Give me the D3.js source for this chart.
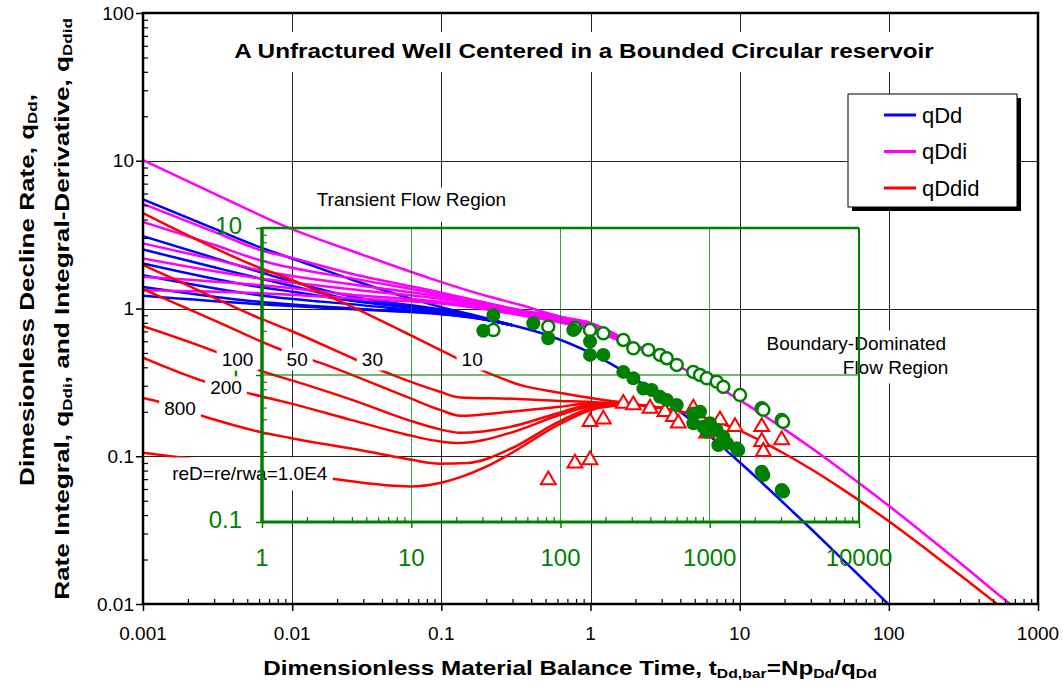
<!DOCTYPE html>
<html>
<head>
<meta charset="utf-8">
<script src="https://cdn.jsdelivr.net/npm/d3@7"></script>
<style>
  body { margin: 0; background: #fff; }
  svg { display: block; }
  text { font-family: Arial, "Liberation Sans", sans-serif; fill: #000; }
</style>
</head>
<body>
<svg id="chart" width="1063" height="687"></svg>
<script>
// ---------------- Type-curve data (tDd_bar, value) ----------------
const reDValues = [10, 30, 50, 100, 200, 800, 10000];

// qDd transient stems, one per reD
const rateStems = [
  [[0.001,5.47],[0.003,3.47],[0.006,2.61],[0.01,2.18],[0.0255,1.56],[0.0616,1.17],[0.1,1.02],[0.2,0.86],[0.3,0.77]],
  [[0.001,3.09],[0.003,2.2],[0.006,1.77],[0.01,1.52],[0.0255,1.2],[0.1,0.98],[0.2,0.85],[0.3,0.77]],
  [[0.001,2.51],[0.003,1.9],[0.006,1.6],[0.01,1.42],[0.0255,1.14],[0.1,0.97],[0.2,0.85],[0.3,0.77]],
  [[0.001,2.02],[0.006,1.40],[0.01,1.3],[0.03,1.1],[0.1,0.95],[0.2,0.84],[0.3,0.77]],
  [[0.001,1.68],[0.006,1.23],[0.03,1.05],[0.1,0.93],[0.2,0.84],[0.3,0.77]],
  [[0.001,1.40],[0.006,1.11],[0.03,0.99],[0.1,0.92],[0.2,0.84],[0.3,0.77]],
  [[0.001,1.22],[0.006,1.07],[0.03,0.98],[0.1,0.915],[0.2,0.84],[0.3,0.77]]
];
// qDd boundary-dominated curve
const rateBoundary = [[0.3,0.77],[0.5,0.667],[1,0.5],[2,0.333],[3,0.25],[5,0.167],[10,0.091],[20,0.0476],[30,0.0323],[50,0.0196],[100,0.0099],[110,0.009]];

// qDdi transient stems
const integralStems = [
  [[0.001,10.1],[0.003,6.0],[0.0096,3.5],[0.03,2.3],[0.084,1.6],[0.21,1.2],[0.34,1.055],[0.63,0.88],[1,0.80],[2,0.57],[3,0.465]],
  [[0.001,5.1],[0.003,3.3],[0.006,2.5],[0.01,2.2],[0.0255,1.71],[0.1,1.28],[0.3,1.0],[1,0.77],[2,0.558],[3,0.463]],
  [[0.001,3.86],[0.003,2.7],[0.006,2.13],[0.03,1.55],[0.1,1.24],[0.3,0.98],[1,0.75],[2,0.555],[3,0.463]],
  [[0.001,2.76],[0.003,2.15],[0.006,1.82],[0.03,1.42],[0.1,1.2],[0.3,0.96],[1,0.74],[2,0.553],[3,0.462]],
  [[0.001,2.18],[0.006,1.6],[0.03,1.32],[0.1,1.16],[0.3,0.95],[1,0.73],[2,0.552],[3,0.462]],
  [[0.001,1.64],[0.006,1.44],[0.03,1.22],[0.1,1.11],[0.3,0.93],[1,0.72],[2,0.551],[3,0.462]],
  [[0.001,1.33],[0.006,1.27],[0.03,1.16],[0.1,1.08],[0.3,0.92],[1,0.715],[2,0.55],[3,0.462]]
];
const integralBoundary = [[3,0.462],[5,0.358],[10,0.24],[20,0.152],[30,0.1145],[50,0.0786],[100,0.0462],[200,0.0265],[300,0.019],[500,0.0124],[700,0.0094]];

// qDdid transient stems
const derivStems = [
  [[0.001,4.42],[0.0061,1.88],[0.01,1.56],[0.0255,1.02],[0.0616,0.662],[0.098,0.525],[0.222,0.355],[0.337,0.304],[0.62,0.269],[1,0.248],[2,0.225],[3,0.212]],
  [[0.001,1.97],[0.00166,1.56],[0.0064,0.84],[0.0097,0.71],[0.0268,0.45],[0.047,0.355],[0.098,0.273],[0.133,0.25],[0.3,0.245],[0.62,0.237],[1,0.233],[2,0.222],[3,0.212]],
  [[0.001,1.35],[0.003,0.83],[0.0083,0.53],[0.0153,0.43],[0.0587,0.252],[0.098,0.206],[0.133,0.188],[0.29,0.20],[0.62,0.216],[1,0.228],[2,0.222],[3,0.212]],
  [[0.001,0.76],[0.0031,0.508],[0.0064,0.373],[0.0097,0.329],[0.0255,0.24],[0.0587,0.177],[0.098,0.152],[0.133,0.144],[0.29,0.158],[0.62,0.197],[1,0.222],[2,0.222],[3,0.212]],
  [[0.001,0.465],[0.0026,0.32],[0.0055,0.262],[0.0097,0.228],[0.0255,0.175],[0.0587,0.14],[0.098,0.126],[0.133,0.123],[0.29,0.144],[0.62,0.19],[1,0.216],[2,0.221],[3,0.212]],
  [[0.001,0.248],[0.0013,0.233],[0.0026,0.185],[0.0061,0.146],[0.0097,0.133],[0.035,0.106],[0.0616,0.095],[0.098,0.089],[0.15,0.09],[0.29,0.112],[0.62,0.172],[1,0.21],[2,0.221],[3,0.212]],
  [[0.001,0.1056],[0.0021,0.0962],[0.01,0.077],[0.0209,0.0693],[0.0616,0.0625],[0.098,0.066],[0.133,0.072],[0.2,0.085],[0.29,0.104],[0.62,0.165],[1,0.205],[1.6,0.222],[2,0.221],[3,0.212]]
];
const derivBoundary = [[3,0.212],[5,0.191],[10,0.149],[20,0.104],[30,0.082],[50,0.059],[100,0.0363],[200,0.0215],[300,0.0157],[500,0.0105],[600,0.0091]];

// ---------------- Field data (inner axes units) ----------------
const rateData = [
  [30.4,2.00],[35.5,2.56],[65.7,2.25],[82.8,1.78],[121.9,2.02],[157.7,1.69],[157.7,1.37],[193.6,1.37],
  [263.6,1.05],[307.5,0.95],[358.9,0.81],[408.3,0.79],[464.2,0.71],[514.8,0.676],[600.6,0.625],
  [776,0.548],[860.5,0.562],[776,0.469],[905.5,0.445],[1004,0.469],[1113,0.423],[954.5,0.411],
  [1233,0.380],[1141,0.334],[1300,0.343],[1516,0.317],[1553,0.309],[2229,0.220],[2285,0.209],[3034,0.165],[3100,0.161]
];
const integralData = [
  [35.5,2.02],[82.8,2.13],[125,2.09],[157.7,2.02],[193.6,1.92],[263.6,1.73],[307.5,1.52],[387.5,1.48],
  [464.2,1.37],[514.8,1.30],[600.6,1.17],[776,1.05],[860.5,1.0],[954.5,0.95],[1113,0.90],[1233,0.83],
  [1595,0.73],[2229,0.593],[2285,0.58],[3034,0.494],[3100,0.48]
];
const derivData = [
  [82.8,0.193],[125,0.251],[157.7,0.264],[157.7,0.481],[193.6,0.50],[263.6,0.64],[307.5,0.625],[398,0.593],
  [501.2,0.562],[570.2,0.52],[615.5,0.469],[776,0.593],[954.5,0.401],[1171,0.494],[1476,0.445],
  [2229,0.445],[2229,0.352],[2285,0.301],[3034,0.361]
];

// ---------------- Tick values and labels ----------------
const xTickValues = [0.001, 0.01, 0.1, 1, 10, 100, 1000];
const xTickLabels = ["0.001", "0.01", "0.1", "1", "10", "100", "1000"];
const yTickValues = [0.01, 0.1, 1, 10, 100];
const yTickLabels = ["0.01", "0.1", "1", "10", "100"];
const gxTickValues = [1, 10, 100, 1000, 10000];
const gxTickLabels = ["1", "10", "100", "1000", "10000"];
const gyTickValues = [0.1, 1, 10];
const gyTickLabels = ["0.1", "1", "10"];

const legendItems = ["qDd", "qDdi", "qDdid"];
const stemLabels = [
  { text: "100", t: 0.0043, q: 0.455 },
  { text: "50", t: 0.0108, q: 0.455 },
  { text: "30", t: 0.0345, q: 0.455 },
  { text: "10", t: 0.161, q: 0.455 },
  { text: "200", t: 0.0036, q: 0.29 },
  { text: "800", t: 0.00177, q: 0.209 },
  { text: "reD=re/rwa=1.0E4", t: 0.0052, q: 0.0759, padY: 6 }
];

// ---------------- Layout ----------------
const BLUE = "#0000ff", MAGENTA = "#ff00ff", RED = "#ff0000", GREEN = "#008000";
const svg = d3.select("#chart");
svg.append("rect").attr("width", 1063).attr("height", 687).attr("fill", "#fff");

const x = d3.scaleLog().domain([0.001, 1000]).range([143, 1038]);
const y = d3.scaleLog().domain([0.01, 100]).range([604, 13]);
const gx = d3.scaleLog().domain([1, 10000]).range([262, 859]);
const gy = d3.scaleLog().domain([0.1, 10]).range([522, 228]);

const [px0, px1] = x.range();
const [py1, py0] = y.range();

svg.append("defs").append("clipPath").attr("id", "plotClip")
  .append("rect").attr("x", px0).attr("y", py0).attr("width", px1 - px0).attr("height", py1 - py0);

// main grid
const grid = svg.append("g").attr("stroke", "#222").attr("stroke-width", 1).attr("shape-rendering", "crispEdges");
xTickValues.slice(1, -1).forEach(v => grid.append("line")
  .attr("x1", Math.round(x(v)) + 0.5).attr("x2", Math.round(x(v)) + 0.5).attr("y1", py0).attr("y2", py1));
yTickValues.slice(1, -1).forEach(v => grid.append("line")
  .attr("y1", Math.round(y(v)) + 0.5).attr("y2", Math.round(y(v)) + 0.5).attr("x1", px0).attr("x2", px1));

// white text boxes sitting on the grid
function boxedLines(parent, cx, lines, opts) {
  const g = parent.append("g");
  const rect = g.append("rect").attr("fill", "#fff");
  const nodes = lines.map(l => g.append("text")
    .attr("x", l.x !== undefined ? l.x : cx).attr("y", l.y)
    .attr("text-anchor", opts.anchor || "middle")
    .attr("dominant-baseline", "central")
    .attr("font-size", opts.size)
    .attr("font-weight", opts.weight || "normal")
    .text(l.text));
  let x0 = Infinity, y0 = Infinity, x1 = -Infinity, y1 = -Infinity;
  nodes.forEach(n => {
    const b = n.node().getBBox();
    x0 = Math.min(x0, b.x); y0 = Math.min(y0, b.y);
    x1 = Math.max(x1, b.x + b.width); y1 = Math.max(y1, b.y + b.height);
  });
  const p = opts.pad;
  rect.attr("x", x0 - p.l).attr("y", y0 - p.t).attr("width", x1 - x0 + p.l + p.r).attr("height", y1 - y0 + p.t + p.b);
  return g;
}

// title
const titleG = svg.append("g");
titleG.append("rect").attr("x", 222).attr("y", 32).attr("width", 724).attr("height", 40).attr("fill", "#fff");
const titleT = titleG.append("text").attr("x", 0).attr("y", 0)
  .attr("text-anchor", "middle").attr("dominant-baseline", "central")
  .attr("font-size", 20).attr("font-weight", "bold")
  .text("A Unfractured Well Centered in a Bounded Circular reservoir");
{
  const w = titleT.node().getComputedTextLength();
  titleT.attr("transform", `translate(584,51) scale(${700 / w},1)`);
}

// flow-region annotations
boxedLines(svg, x(0.063), [{ text: "Transient Flow Region", y: y(5.5) }],
  { size: 19, pad: { l: 4, r: 4, t: 1, b: 12 } });
boxedLines(svg, 0, [
  { text: "Boundary-Dominated", x: x(60.5), y: y(0.584) },
  { text: "Flow Region", x: x(111), y: y(0.396) }
], { size: 19, pad: { l: 4, r: 4, t: 2, b: 5 } });

// curves
const line = d3.line().x(d => x(d[0])).y(d => y(d[1])).curve(d3.curveMonotoneX);
const curves = svg.append("g").attr("clip-path", "url(#plotClip)")
  .attr("fill", "none").attr("stroke-width", 2.5).attr("stroke-linejoin", "round");
function drawFamily(stems, boundary, color) {
  curves.selectAll(null).data(stems).join("path")
    .attr("d", line).attr("stroke", color);
  curves.append("path").datum(boundary).attr("d", line).attr("stroke", color);
}
drawFamily(rateStems, rateBoundary, BLUE);
drawFamily(integralStems, integralBoundary, MAGENTA);
drawFamily(derivStems, derivBoundary, RED);

// inner (field-data) axes: grid
const ig = svg.append("g").attr("shape-rendering", "crispEdges");
gxTickValues.slice(1, -1).forEach(v => ig.append("line")
  .attr("x1", gx(v)).attr("x2", gx(v)).attr("y1", gy.range()[1]).attr("y2", gy.range()[0])
  .attr("stroke", GREEN).attr("stroke-opacity", 0.75).attr("stroke-width", 1.3));
gyTickValues.slice(1, -1).forEach(v => ig.append("line")
  .attr("y1", gy(v)).attr("y2", gy(v)).attr("x1", gx.range()[0]).attr("x2", gx.range()[1])
  .attr("stroke", GREEN).attr("stroke-opacity", 0.55).attr("stroke-width", 1.3));

// inner tick labels
const gLabels = svg.append("g").attr("fill", GREEN).attr("font-size", 24);
gxTickValues.forEach((v, i) => gLabels.append("text")
  .attr("x", gx(v)).attr("y", 557).attr("text-anchor", "middle").attr("dominant-baseline", "central")
  .style("fill", GREEN).text(gxTickLabels[i]));
gyTickValues.forEach((v, i) => gLabels.append("text")
  .attr("x", 242).attr("y", gy(v) - 3).attr("text-anchor", "end").attr("dominant-baseline", "central")
  .style("fill", GREEN).text(gyTickLabels[i]));

// stem labels
stemLabels.forEach(s => {
  const py = s.padY || 1;
  boxedLines(svg, x(s.t), [{ text: s.text, y: y(s.q) }], { size: 19, pad: { l: 5, r: 5, t: py, b: py } });
});

// inner frame and ticks
const gxMinor = [], gyMinor = [];
[1, 10, 100, 1000].forEach(d => { for (let k = 2; k <= 9; k++) gxMinor.push(d * k); });
[0.1, 1].forEach(d => { for (let k = 2; k <= 9; k++) gyMinor.push(d * k); });
const iAx = svg.append("g").attr("color", GREEN);
iAx.append("g").attr("transform", `translate(0,${gy.range()[0]})`)
  .call(d3.axisBottom(gx).tickValues(gxTickValues).tickSize(6).tickFormat(""))
  .call(a => a.select(".domain").remove()).selectAll("line").attr("stroke-width", 1.5);
iAx.append("g").attr("transform", `translate(0,${gy.range()[0]})`)
  .call(d3.axisBottom(gx).tickValues(gxMinor).tickSize(-5).tickFormat(""))
  .call(a => a.select(".domain").remove()).selectAll("line").attr("stroke-width", 1.2);
iAx.append("g").attr("transform", `translate(${gx.range()[0]},0)`)
  .call(d3.axisLeft(gy).tickValues(gyTickValues).tickSize(6).tickFormat(""))
  .call(a => a.select(".domain").remove()).selectAll("line").attr("stroke-width", 1.5);
iAx.append("g").attr("transform", `translate(${gx.range()[0]},0)`)
  .call(d3.axisLeft(gy).tickValues(gyMinor).tickSize(-5).tickFormat(""))
  .call(a => a.select(".domain").remove()).selectAll("line").attr("stroke-width", 1.2);
// frame: top and right lighter, left and bottom heavier
iAx.append("line").attr("x1", gx.range()[0]).attr("x2", gx.range()[1]).attr("y1", gy.range()[1]).attr("y2", gy.range()[1])
  .attr("stroke", GREEN).attr("stroke-width", 2.5);
iAx.append("line").attr("x1", gx.range()[1]).attr("x2", gx.range()[1]).attr("y1", gy.range()[1]).attr("y2", gy.range()[0])
  .attr("stroke", GREEN).attr("stroke-width", 2);
iAx.append("line").attr("x1", gx.range()[0]).attr("x2", gx.range()[1]).attr("y1", gy.range()[0]).attr("y2", gy.range()[0])
  .attr("stroke", GREEN).attr("stroke-width", 3);
iAx.append("line").attr("x1", gx.range()[0]).attr("x2", gx.range()[0]).attr("y1", gy.range()[1] - 1).attr("y2", gy.range()[0] + 1)
  .attr("stroke", GREEN).attr("stroke-width", 3.5);

// field data markers
const marks = svg.append("g");
marks.selectAll(".tri").data(derivData).join("path").attr("class", "tri")
  .attr("d", d3.symbol(d3.symbolTriangle, 95))
  .attr("transform", d => `translate(${gx(d[0])},${gy(d[1])})`)
  .attr("fill", "#fff").attr("stroke", RED).attr("stroke-width", 2);
marks.selectAll(".open").data(integralData).join("circle").attr("class", "open")
  .attr("cx", d => gx(d[0])).attr("cy", d => gy(d[1])).attr("r", 6)
  .attr("fill", "#fff").attr("stroke", GREEN).attr("stroke-width", 2.5);
marks.selectAll(".solid").data(rateData).join("circle").attr("class", "solid")
  .attr("cx", d => gx(d[0])).attr("cy", d => gy(d[1])).attr("r", 7)
  .attr("fill", GREEN);

// main axes: ticks
const xMinor = [], yMinor = [];
[0.001, 0.01, 0.1, 1, 10, 100].forEach(d => { for (let k = 2; k <= 9; k++) xMinor.push(+(d * k).toPrecision(6)); });
[0.01, 0.1, 1, 10].forEach(d => { for (let k = 2; k <= 9; k++) yMinor.push(+(d * k).toPrecision(6)); });
const ax = svg.append("g").attr("color", "#000");
ax.append("g").attr("transform", `translate(0,${py1})`)
  .call(d3.axisBottom(x).tickValues(xTickValues).tickSize(7).tickFormat(""))
  .call(a => a.select(".domain").remove()).selectAll("line").attr("stroke-width", 1.5);
ax.append("g").attr("transform", `translate(0,${py1})`)
  .call(d3.axisBottom(x).tickValues(xMinor).tickSize(-5).tickFormat(""))
  .call(a => a.select(".domain").remove()).selectAll("line").attr("stroke-width", 1.2);
ax.append("g").attr("transform", `translate(${px0},0)`)
  .call(d3.axisLeft(y).tickValues(yTickValues).tickSize(7).tickFormat(""))
  .call(a => a.select(".domain").remove()).selectAll("line").attr("stroke-width", 1.5);
ax.append("g").attr("transform", `translate(${px0},0)`)
  .call(d3.axisLeft(y).tickValues(yMinor).tickSize(-5).tickFormat(""))
  .call(a => a.select(".domain").remove()).selectAll("line").attr("stroke-width", 1.2);
svg.append("rect").attr("x", px0).attr("y", py0).attr("width", px1 - px0).attr("height", py1 - py0)
  .attr("fill", "none").attr("stroke", "#000").attr("stroke-width", 2.5);

// main tick labels
const tl = svg.append("g").attr("font-size", 19);
xTickValues.forEach((v, i) => tl.append("text").attr("x", x(v)).attr("y", 633)
  .attr("text-anchor", "middle").attr("dominant-baseline", "central").text(xTickLabels[i]));
yTickValues.forEach((v, i) => tl.append("text").attr("x", 134).attr("y", y(v))
  .attr("text-anchor", "end").attr("dominant-baseline", "central").text(yTickLabels[i]));

// axis titles (bold, condensed to fit)
function richTitle(parent, cx, cy, rotate, target, parts) {
  const g = parent.append("g").attr("transform", `translate(${cx},${cy})${rotate ? " rotate(-90)" : ""}`);
  const t = g.append("text").attr("x", 0).attr("y", 0).attr("text-anchor", "middle")
    .attr("dominant-baseline", "central").attr("font-weight", "bold").attr("font-size", 20);
  let shifted = false;
  parts.forEach(p => {
    const ts = t.append("tspan").text(p[0]);
    if (p[1] === "sub") { ts.attr("font-size", 13).attr("dy", shifted ? 0 : 5); shifted = true; }
    else { ts.attr("dy", shifted ? -5 : 0); shifted = false; }
  });
  const w = t.node().getComputedTextLength();
  t.attr("transform", `scale(${target / w},1)`);
}
richTitle(svg, 570, 668, false, 614, [
  ["Dimensionless Material Balance Time, t"], ["Dd,bar", "sub"], ["=Np"], ["Dd", "sub"], ["/q"], ["Dd", "sub"]
]);
richTitle(svg, 27, 290, true, 392, [
  ["Dimesionless Decline Rate, q"], ["Dd", "sub"], [","]
]);
richTitle(svg, 62, 309, true, 582, [
  ["Rate Integral, q"], ["Ddi", "sub"], [", and Integral-Derivative, q"], ["Ddid", "sub"]
]);

// legend
const lg = svg.append("g");
lg.append("rect").attr("x", 852).attr("y", 98).attr("width", 169).attr("height", 113).attr("fill", "#000");
lg.append("rect").attr("x", 848).attr("y", 94).attr("width", 169).attr("height", 113)
  .attr("fill", "#fff").attr("stroke", "#000").attr("stroke-width", 1);
const legendColors = [BLUE, MAGENTA, RED];
legendItems.forEach((name, i) => {
  const yy = 115 + i * 36.5;
  lg.append("line").attr("x1", 884).attr("x2", 916).attr("y1", yy).attr("y2", yy)
    .attr("stroke", legendColors[i]).attr("stroke-width", 3);
  lg.append("text").attr("x", 922).attr("y", yy).attr("dominant-baseline", "central")
    .attr("font-size", 22).text(name);
});
</script>
</body>
</html>
